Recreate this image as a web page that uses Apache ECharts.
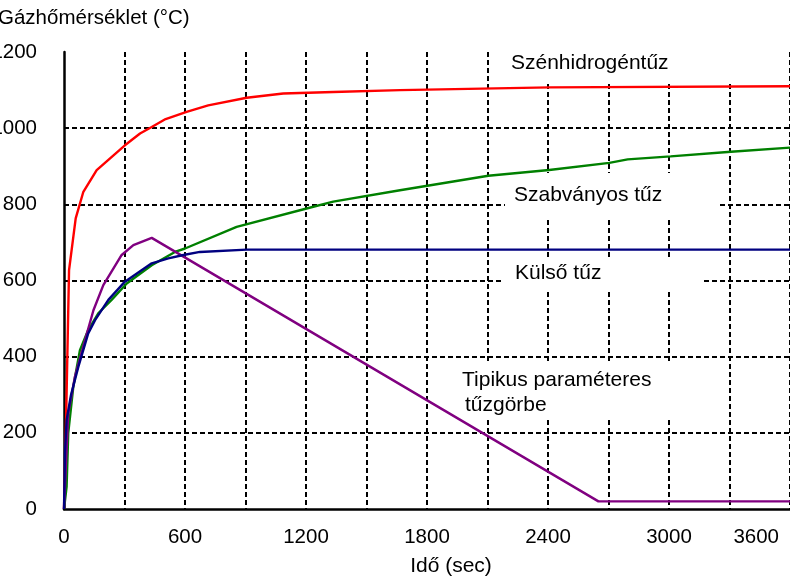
<!DOCTYPE html>
<html>
<head>
<meta charset="utf-8">
<script src="https://cdn.jsdelivr.net/npm/echarts@6/dist/echarts.min.js"></script>
<style>
  html, body { margin: 0; padding: 0; background: #fff; }
  #chart { width: 790px; height: 576px; }
</style>
</head>
<body>
<div id="chart"></div>
<script>
// Szénhidrogéntűz
var redTime = [0, 12, 25, 58, 96, 162, 302, 377, 435, 504, 608, 715, 906, 1087, 1335, 1666, 2410, 3600];
var redTemp = [0, 280, 627, 763, 833, 890, 955, 986, 1003, 1024, 1043, 1060, 1080, 1091, 1095, 1100, 1107, 1110];
// Szabványos tűz
var greenTime = [0, 13, 21, 46, 79, 120, 170, 236, 311, 435, 550, 600, 856, 1203, 1335, 1666, 2104, 2406, 2704, 2795, 3008, 3307, 3600];
var greenTemp = [0, 59, 199, 321, 417, 470, 514, 549, 592, 640, 675, 684, 741, 789, 807, 837, 875, 890, 909, 918, 926, 938, 949];
// Külső tűz
var blueTime = [0, 5, 13, 35, 71, 120, 154, 220, 302, 435, 517, 592, 674, 906, 3600];
var blueTemp = [0, 150, 234, 300, 373, 461, 496, 549, 597, 645, 658, 667, 675, 681, 681];
// Tipikus paraméteres tűzgörbe
var purpleTime = [0, 21, 54, 104, 146, 195, 286, 344, 435, 2650, 3600];
var purpleTemp = [0, 251, 347, 443, 522, 588, 667, 693, 712, 20, 20];

function pairs(t, v) {
    return t.map(function (x, i) { return [x, v[i]] })
}

var font = 'Arial, "Liberation Sans", sans-serif'
var dash = { color: '#000', width: 2, type: [5, 3] }
var plain = function (v) { return String(v) }

var mychart = echarts.init(document.getElementById('chart'))
mychart.setOption({
    animation: false,
    grid: { left: 64, right: 0, top: 52, bottom: 67, outerBoundsMode: 'none', containLabel: false },
    xAxis: {
        type: 'value',
        min: 0,
        max: 3600,
        interval: 600,
        name: 'Idő (sec)',
        nameLocation: 'middle',
        nameGap: 47,
        nameTextStyle: { fontFamily: font, fontSize: 21, color: '#000', padding: [0, 0, 0, 48] },
        axisLine: { show: true, lineStyle: { color: '#000', width: 2.5 } },
        axisTick: { show: false },
        minorTick: { show: false, splitNumber: 2 },
        axisLabel: {
            fontFamily: font, fontSize: 20.5, color: '#000', margin: 18, alignMaxLabel: 'right',
            formatter: function (v) { return v === 3600 ? '{m|' + v + '}' : String(v) },
            rich: { m: { fontFamily: font, fontSize: 20.5, color: '#000', padding: [0, 11, 0, 0] } }
        },
        splitLine: { show: true, showMinLine: false, lineStyle: dash },
        minorSplitLine: { show: true, lineStyle: dash }
    },
    yAxis: {
        type: 'value',
        min: 0,
        max: 1200,
        interval: 200,
        axisLine: { show: true, lineStyle: { color: '#000', width: 2.5 } },
        axisTick: { show: false },
        axisLabel: { fontFamily: font, fontSize: 20.5, color: '#000', margin: 27, formatter: plain },
        splitLine: { show: true, showMinLine: false, showMaxLine: false, lineStyle: dash }
    },
    graphic: {
        elements: [
            { type: 'rect', z: 1, shape: { x: 500, y: 46, width: 240, height: 36 }, style: { fill: '#fff' } },
            { type: 'rect', z: 1, shape: { x: 505, y: 173, width: 213, height: 45 }, style: { fill: '#fff' } },
            { type: 'rect', z: 1, shape: { x: 503, y: 257, width: 199, height: 35 }, style: { fill: '#fff' } },
            { type: 'rect', z: 1, shape: { x: 455, y: 361, width: 267, height: 57 }, style: { fill: '#fff' } },
            { type: 'text', z: 2, x: -2, y: 18, style: { text: 'Gázhőmérséklet (°C)', font: '20.5px ' + font, fill: '#000', textVerticalAlign: 'middle' } },
            { type: 'text', z: 2, x: 511, y: 63, style: { text: 'Szénhidrogéntűz', font: '21px ' + font, fill: '#000', textVerticalAlign: 'middle' } },
            { type: 'text', z: 2, x: 514, y: 195, style: { text: 'Szabványos tűz', font: '21px ' + font, fill: '#000', textVerticalAlign: 'middle' } },
            { type: 'text', z: 2, x: 515, y: 273, style: { text: 'Külső tűz', font: '21px ' + font, fill: '#000', textVerticalAlign: 'middle' } },
            { type: 'text', z: 2, x: 462, y: 380, style: { text: 'Tipikus paraméteres', font: '21px ' + font, fill: '#000', textVerticalAlign: 'middle' } },
            { type: 'text', z: 2, x: 465, y: 405, style: { text: 'tűzgörbe', font: '21px ' + font, fill: '#000', textVerticalAlign: 'middle' } }
        ]
    },
    series: [{
        name: 'Szénhidrogéntűz',
        type: 'line',
        data: pairs(redTime, redTemp),
        showSymbol: false,
        z: 5,
        lineStyle: { color: '#ff0000', width: 2.4 }
    }, {
        name: 'Szabványos tűz',
        type: 'line',
        data: pairs(greenTime, greenTemp),
        showSymbol: false,
        z: 5,
        lineStyle: { color: '#008000', width: 2.4 }
    }, {
        name: 'Tipikus paraméteres tűzgörbe',
        type: 'line',
        data: pairs(purpleTime, purpleTemp),
        showSymbol: false,
        z: 5,
        lineStyle: { color: '#800080', width: 2.4 }
    }, {
        name: 'Külső tűz',
        type: 'line',
        data: pairs(blueTime, blueTemp),
        showSymbol: false,
        z: 6,
        lineStyle: { color: '#000080', width: 2.4 }
    }]
})
</script>
</body>
</html>
